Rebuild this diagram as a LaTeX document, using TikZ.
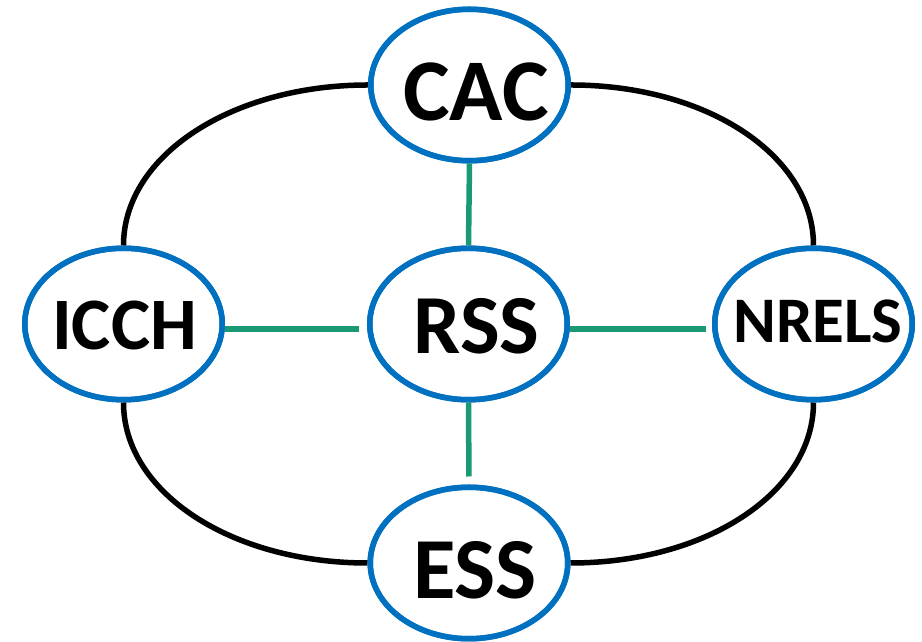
\documentclass[tikz,border=0pt]{standalone}
\usepackage{fontspec}
\setmainfont{Carlito}
\usetikzlibrary{shapes.geometric}
\definecolor{ovalblue}{HTML}{0070C0}
\definecolor{linkgreen}{HTML}{1A9A74}
\tikzset{
  oval/.style={ellipse, draw=ovalblue, line width=5.5pt, fill=white,
    minimum width=197.5pt, minimum height=151.5pt, inner sep=0pt},
  lbl/.style={inner sep=0pt, text=black},
  ring/.style={draw=black, line width=5.5pt},
  link/.style={draw=linkgreen, line width=5.5pt},
}
\begin{document}
\begin{tikzpicture}[x=1pt,y=1pt]
\useasboundingbox (0,0) rectangle (922,642);
\coordinate (pcac) at (469.5,557);
\coordinate (picch) at (123.5,318);
\coordinate (prss) at (468.5,318);
\coordinate (pnrels) at (813.5,318);
\coordinate (pess) at (469,79);

\node[oval] (cac) at (pcac) {};
\node[oval] (icch) at (picch) {};
\node[oval] (rss) at (prss) {};
\node[oval] (nrels) at (pnrels) {};
\node[oval] (ess) at (pess) {};

\draw[ring] (icch.north) .. controls +(0,90) and +(-136,0) .. (cac.west);
\draw[ring] (cac.east) .. controls +(136,0) and +(0,90) .. (nrels.north);
\draw[ring] (nrels.south) .. controls +(0,-90) and +(136,0) .. (ess.east);
\draw[ring] (ess.west) .. controls +(-136,0) and +(0,-90) .. (icch.south);

\draw[link] (cac.south) -- (rss.north);
\draw[link, shorten >=8pt] ([yshift=-5pt]icch.east) -- ([yshift=-5pt]rss.west);
\draw[link, shorten >=6pt] ([yshift=-5pt]rss.east) -- ([yshift=-5pt]nrels.west);
\draw[link, shorten >=8pt] (rss.south) -- (ess.north);

% redraw oval borders on top of connector ends
\foreach \n in {cac,icch,rss,nrels,ess}{
  \draw[ovalblue, line width=5.5pt] (\n.center) ellipse (98.75pt and 75.75pt);
}

\node[lbl, font=\bfseries\fontsize{88}{88}\selectfont] (cacT) at ([shift={(6.5,-7)}]cac.center) {CAC};
\node[lbl, font=\bfseries\fontsize{84}{84}\selectfont] (rssT) at ([shift={(8,-2.5)}]rss.center) {RSS};
\node[lbl, font=\bfseries\fontsize{74}{74}\selectfont] (icchT) at ([shift={(1,-1)}]icch.center) {ICCH};
\node[lbl, font=\bfseries\fontsize{65}{65}\selectfont] (nrelsT) at ([shift={(4.5,2.5)}]nrels.center) {NRELS};
\node[lbl, font=\bfseries\fontsize{87}{87}\selectfont] (essT) at ([shift={(6,-7.5)}]ess.center) {ESS};
\end{tikzpicture}
\end{document}
